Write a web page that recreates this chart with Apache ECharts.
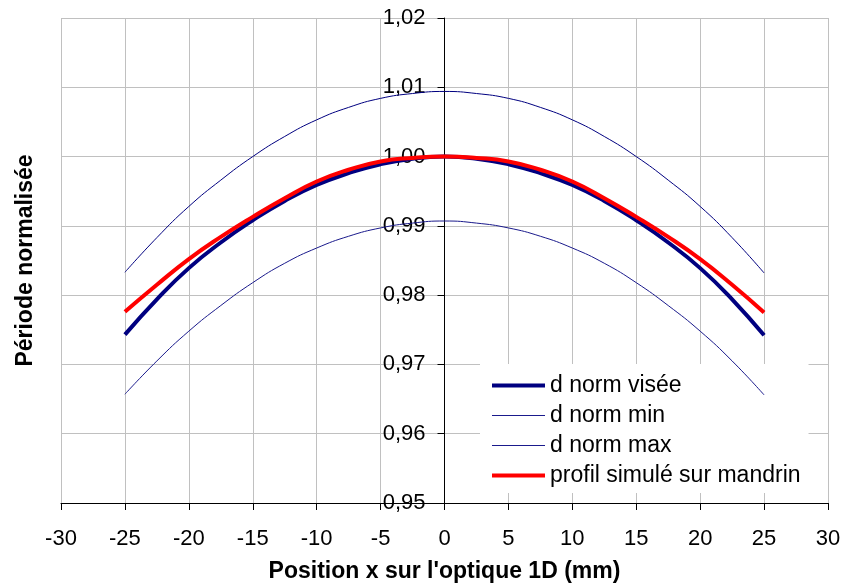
<!DOCTYPE html>
<html>
<head>
<meta charset="utf-8">
<script src="https://cdn.jsdelivr.net/npm/echarts@6/dist/echarts.min.js"></script>
<style>html,body{margin:0;padding:0;background:#fff;}#c{width:843px;height:587px;}</style>
</head>
<body>
<div id="c"></div>
<script>
// Positions (mm)
var positions = [-25, -22.5, -20, -17.5, -15, -12.5, -10, -7.5, -5, -2.5, 0, 2.5, 5, 7.5, 10, 12.5, 15, 17.5, 20, 22.5, 25];
// Series values
var dNormVisee   = [0.9743, 0.9794, 0.9839, 0.9876, 0.9908, 0.9936, 0.9959, 0.9976, 0.9989, 0.9997, 1.0000, 0.9997, 0.9989, 0.9976, 0.9959, 0.9936, 0.9908, 0.9876, 0.9839, 0.9794, 0.9742];
var dNormMin     = [0.9657, 0.9705, 0.9748, 0.9785, 0.9818, 0.9846, 0.9868, 0.9885, 0.9897, 0.9904, 0.9907, 0.9904, 0.9897, 0.9885, 0.9868, 0.9846, 0.9818, 0.9785, 0.9748, 0.9705, 0.9656];
var dNormMax     = [0.9833, 0.9883, 0.9928, 0.9966, 1.0000, 1.0029, 1.0053, 1.0071, 1.0084, 1.0091, 1.0094, 1.0091, 1.0084, 1.0071, 1.0053, 1.0029, 1.0000, 0.9966, 0.9928, 0.9883, 0.9832];
var profilSimule = [0.9776, 0.9815, 0.9852, 0.9884, 0.9913, 0.9940, 0.9964, 0.9981, 0.9993, 0.9998, 1.0000, 0.9998, 0.9993, 0.9981, 0.9964, 0.9940, 0.9913, 0.9884, 0.9852, 0.9815, 0.9775];
var seriesNames = ['d norm visée', 'd norm min', 'd norm max', 'profil simulé sur mandrin'];
var xTitle = "Position x sur l'optique 1D (mm)";
var yTitle = 'Période normalisée';

function pairs(vals) { return positions.map(function (x, i) { return [x, vals[i]]; }); }

var FONT = "'Liberation Sans', Arial, sans-serif";
var NAVY = '#000080', THIN = '#1a1a8c', RED = '#ff0000';
var chart = echarts.init(document.getElementById('c'), null, { renderer: 'canvas' });
chart.setOption({
  animation: false,
  backgroundColor: '#fff',
  grid: { left: 61, right: 15, top: 18, bottom: 84, containLabel: false, outerBoundsMode: 'none' },
  legend: {
    z: 1,
    orient: 'vertical',
    left: 480, top: 364,
    padding: [10, 8, 6, 10],
    backgroundColor: '#fff',
    itemWidth: 53, itemHeight: 22, itemGap: 7,
    itemStyle: { opacity: 0 },
    textStyle: { fontFamily: FONT, fontSize: 23, color: '#000' },
    data: [
      { name: seriesNames[0], lineStyle: { width: 4, color: NAVY } },
      { name: seriesNames[1], lineStyle: { width: 1, color: THIN } },
      { name: seriesNames[2], lineStyle: { width: 1, color: THIN } },
      { name: seriesNames[3], lineStyle: { width: 4, color: RED } }
    ]
  },
  xAxis: {
    type: 'value', min: -30, max: 30, interval: 5,
    name: xTitle, nameLocation: 'middle', nameGap: 57,
    nameTextStyle: { fontFamily: FONT, fontSize: 23, fontWeight: 'bold', color: '#000' },
    axisLine: { show: true, onZero: false, lineStyle: { color: '#000', width: 1 } },
    axisTick: { show: true, length: 7, lineStyle: { color: '#000' } },
    axisLabel: { fontFamily: FONT, fontSize: 22, color: '#000', margin: 25 },
    splitLine: { show: true, lineStyle: { color: '#c0c0c0', width: 1 } }
  },
  yAxis: {
    type: 'value', min: 0.95, max: 1.02, interval: 0.01,
    position: 'left', offset: -383.5,
    name: yTitle, nameLocation: 'middle', nameGap: 407, nameRotate: 90,
    nameTextStyle: { fontFamily: FONT, fontSize: 23, fontWeight: 'bold', color: '#000' },
    axisLine: { show: true, onZero: false, lineStyle: { color: '#000', width: 1 } },
    axisTick: { show: true, length: 7, lineStyle: { color: '#000' } },
    axisLabel: {
      fontFamily: FONT, fontSize: 22, color: '#000', margin: 19,
      formatter: function (v) { return v.toFixed(2).replace('.', ','); }
    },
    splitLine: { show: true, lineStyle: { color: '#c0c0c0', width: 1 } }
  },
  series: [
    { name: seriesNames[0], type: 'line', data: pairs(dNormVisee), smooth: true, symbol: 'none',
      lineStyle: { color: NAVY, width: 4 }, itemStyle: { color: NAVY } },
    { name: seriesNames[1], type: 'line', data: pairs(dNormMin), smooth: true, symbol: 'none',
      lineStyle: { color: THIN, width: 1 }, itemStyle: { color: THIN } },
    { name: seriesNames[2], type: 'line', data: pairs(dNormMax), smooth: true, symbol: 'none',
      lineStyle: { color: NAVY, width: 1 }, itemStyle: { color: NAVY } },
    { name: seriesNames[3], type: 'line', data: pairs(profilSimule), smooth: true, symbol: 'none',
      lineStyle: { color: RED, width: 4 }, itemStyle: { color: RED } }
  ]
});
</script>
</body>
</html>
